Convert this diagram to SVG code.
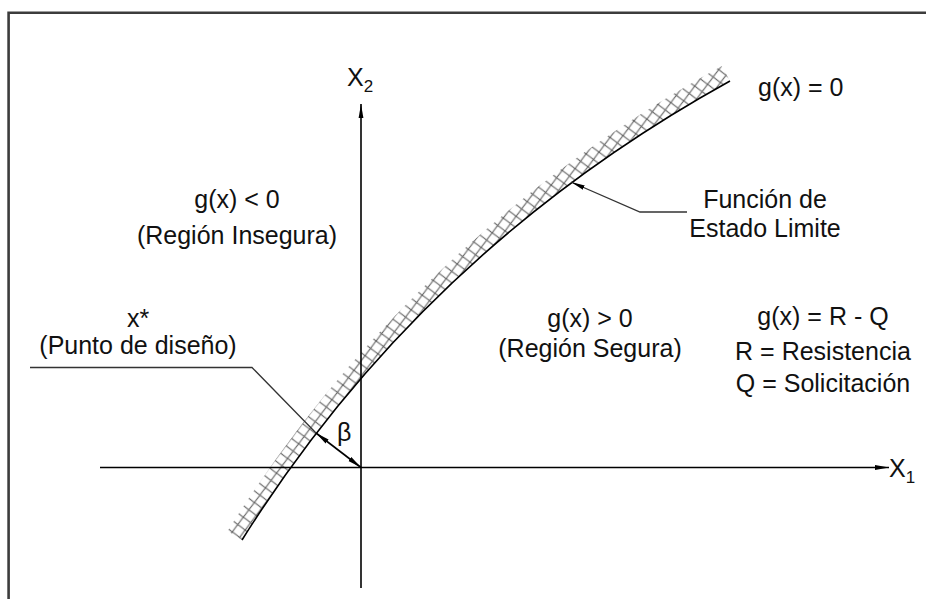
<svg xmlns="http://www.w3.org/2000/svg" width="926" height="599" viewBox="0 0 926 599">
<style>
.t{font-family:"Liberation Sans",Arial,sans-serif;font-size:25px;fill:#111}
.ax{stroke:#000;stroke-width:1.6;fill:none}
.ld{stroke:#333;stroke-width:1.3;fill:none}
</style>
<defs>
<marker id="ah" viewBox="0 0 14 6" refX="14" refY="3" markerWidth="14" markerHeight="6" markerUnits="userSpaceOnUse" orient="auto-start-reverse">
<path d="M0,0.6 L14,3 L0,5.4 Z" fill="#000"/>
</marker>
<pattern id="hatch" patternUnits="userSpaceOnUse" width="13" height="13" patternTransform="rotate(-8)">
<path d="M0,0 L13,13 M13,0 L0,13" stroke="#666" stroke-width="1.2" stroke-linecap="square"/>
</pattern>
<clipPath id="upper">
<path d="M222,572 L242,540 Q424,250 730,81 L760,64 L760,0 L0,0 L0,599 Z"/>
</clipPath>
</defs>
<rect width="926" height="599" fill="#fff"/>
<path d="M8.6,599 L8.6,12.8 L926,12.8" stroke="#3c3c3c" stroke-width="2.6" fill="none"/>

<g id="limit-state">
<path d="M242,540 Q424,250 730,81" stroke="url(#hatch)" stroke-width="34" fill="none" clip-path="url(#upper)"/>
<path d="M242,540 Q424,250 730,81" stroke="#000" stroke-width="1.6" fill="none"/>
</g>

<g id="connectors">
<path class="ax" d="M361,588 V104" marker-end="url(#ah)"/>
<path class="ax" d="M100,467.5 H889" marker-end="url(#ah)"/>
<path class="ld" d="M30,367.5 H252 L316,433"/>
<path class="ax" d="M316,433 L361,467.5" marker-start="url(#ah)" marker-end="url(#ah)" stroke-width="1.3"/>
<path class="ld" d="M687,212 H640 L571,182" marker-end="url(#ah)"/>
</g>

<g id="axis-x2"><text class="t" x="347" y="86">X<tspan font-size="17" dy="6">2</tspan></text></g>
<g id="axis-x1"><text class="t" x="889" y="477">X<tspan font-size="17" dy="6">1</tspan></text></g>
<g id="label-g0"><text class="t" x="758" y="96">g(x) = 0</text></g>
<g id="unsafe">
<text class="t" x="237" y="208" text-anchor="middle">g(x) &lt; 0</text>
<text class="t" x="237" y="244" text-anchor="middle">(Región Insegura)</text>
</g>
<g id="lsf-label">
<text class="t" x="765" y="208" text-anchor="middle">Función de</text>
<text class="t" x="765" y="237" text-anchor="middle">Estado Limite</text>
</g>
<g id="design-point">
<text class="t" x="138" y="327" text-anchor="middle">x*</text>
<text class="t" x="138" y="354" text-anchor="middle">(Punto de diseño)</text>
</g>
<g id="safe">
<text class="t" x="590" y="327" text-anchor="middle">g(x) &gt; 0</text>
<text class="t" x="590" y="357" text-anchor="middle">(Región Segura)</text>
</g>
<g id="definitions">
<text class="t" x="823" y="325" text-anchor="middle">g(x) = R - Q</text>
<text class="t" x="823" y="360" text-anchor="middle">R = Resistencia</text>
<text class="t" x="823" y="392" text-anchor="middle">Q = Solicitación</text>
</g>
<g id="beta"><text class="t" x="337" y="441">β</text></g>
</svg>
